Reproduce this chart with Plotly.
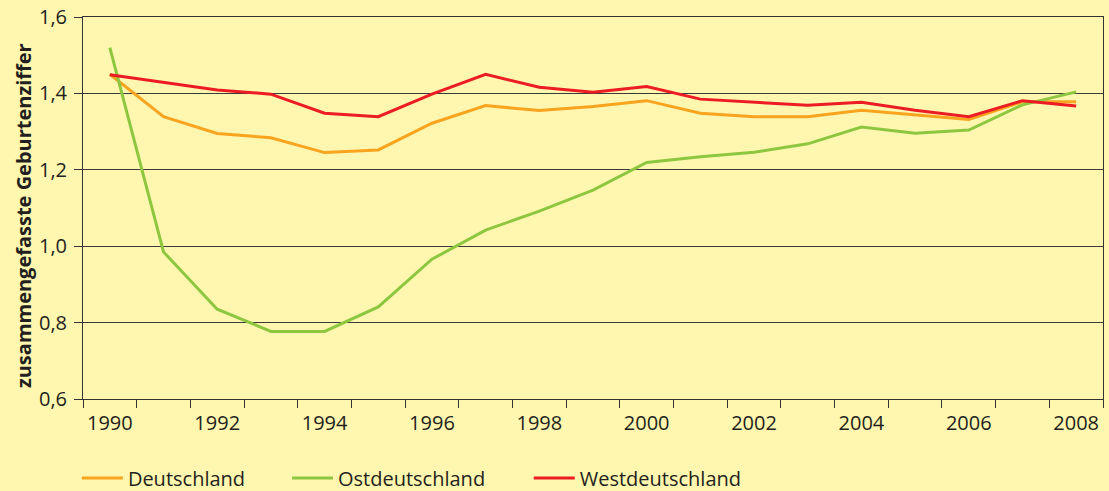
import plotly.graph_objects as go

years = list(range(1990, 2009))
deutschland = [1.45, 1.339, 1.295, 1.284, 1.245, 1.252, 1.322, 1.368, 1.355, 1.366, 1.381, 1.348, 1.339, 1.339, 1.356, 1.343, 1.332, 1.378, 1.378]
ostdeutschland = [1.52, 0.985, 0.835, 0.777, 0.777, 0.841, 0.966, 1.042, 1.092, 1.147, 1.219, 1.234, 1.246, 1.268, 1.312, 1.296, 1.304, 1.37, 1.404]
westdeutschland = [1.449, 1.429, 1.409, 1.398, 1.348, 1.339, 1.398, 1.45, 1.416, 1.403, 1.418, 1.385, 1.377, 1.369, 1.377, 1.356, 1.339, 1.381, 1.367]
y_ticks = [0.6, 0.8, 1.0, 1.2, 1.4, 1.6]
x_ticks = list(range(1990, 2009, 2))

BG = "#FFF7AF"
TXT = "#231F20"
FONT = "Open Sans"

fig = go.Figure()
series = [
    ("Deutschland", deutschland, "#F8A41F", "legend", -0.006),
    ("Ostdeutschland", ostdeutschland, "#8DC63F", "legend2", 0.200),
    ("Westdeutschland", westdeutschland, "#EC1C24", "legend3", 0.437),
]
for name, vals, col, lg, _ in series:
    fig.add_trace(go.Scatter(x=years, y=vals, name=name, mode="lines",
                             line=dict(color=col, width=3), legend=lg))

legend_common = dict(orientation="h", yanchor="middle", y=-0.207, xanchor="left",
                     bgcolor="rgba(0,0,0,0)", borderwidth=0, itemwidth=41,
                     font=dict(family=FONT, size=20, color=TXT))
layout_legends = {}
for name, vals, col, lg, lx in series:
    layout_legends[lg] = dict(legend_common, x=lx)

fig.update_layout(
    width=1109, height=491,
    margin=dict(l=83, r=6, t=17, b=92, autoexpand=False),
    paper_bgcolor=BG, plot_bgcolor=BG,
    separators=", ",
    showlegend=True,
    font=dict(family=FONT, size=20, color=TXT),
    **layout_legends,
)
fig.update_xaxes(
    range=[1989.5, 2008.5], tickvals=x_ticks, ticktext=[str(v) for v in x_ticks],
    ticks="", showgrid=False, zeroline=False, automargin=False,
    showline=True, linecolor="#333333", linewidth=1, mirror=True,
    ticklabelstandoff=6,
    tickfont=dict(family=FONT, size=20, color=TXT),
    minor=dict(tickvals=[1989.5 + i for i in range(20)], ticks="outside",
               ticklen=8, tickcolor="#333333", tickwidth=1, showgrid=False),
)
fig.update_yaxes(
    range=[0.6, 1.6], tickvals=y_ticks, tickformat=".1f",
    ticks="outside", ticklen=8, tickcolor="#333333", tickwidth=1,
    showgrid=True, gridcolor="#3a3a3a", gridwidth=1, zeroline=False, automargin=False,
    showline=True, linecolor="#333333", linewidth=1, mirror=True,
    ticklabelstandoff=3,
    tickfont=dict(family=FONT, size=20, color=TXT),
)
fig.add_annotation(
    text="<b>zusammengefasste Geburtenziffer</b>", textangle=-90,
    xref="paper", yref="paper", x=-0.0588, y=0.479,
    xanchor="center", yanchor="middle", showarrow=False,
    font=dict(family=FONT, size=20, color=TXT),
)

fig.write_html(
    "out.html",
    config={"displayModeBar": False},
    post_script="document.body.style.margin='0';document.body.style.overflow='hidden';",
)
